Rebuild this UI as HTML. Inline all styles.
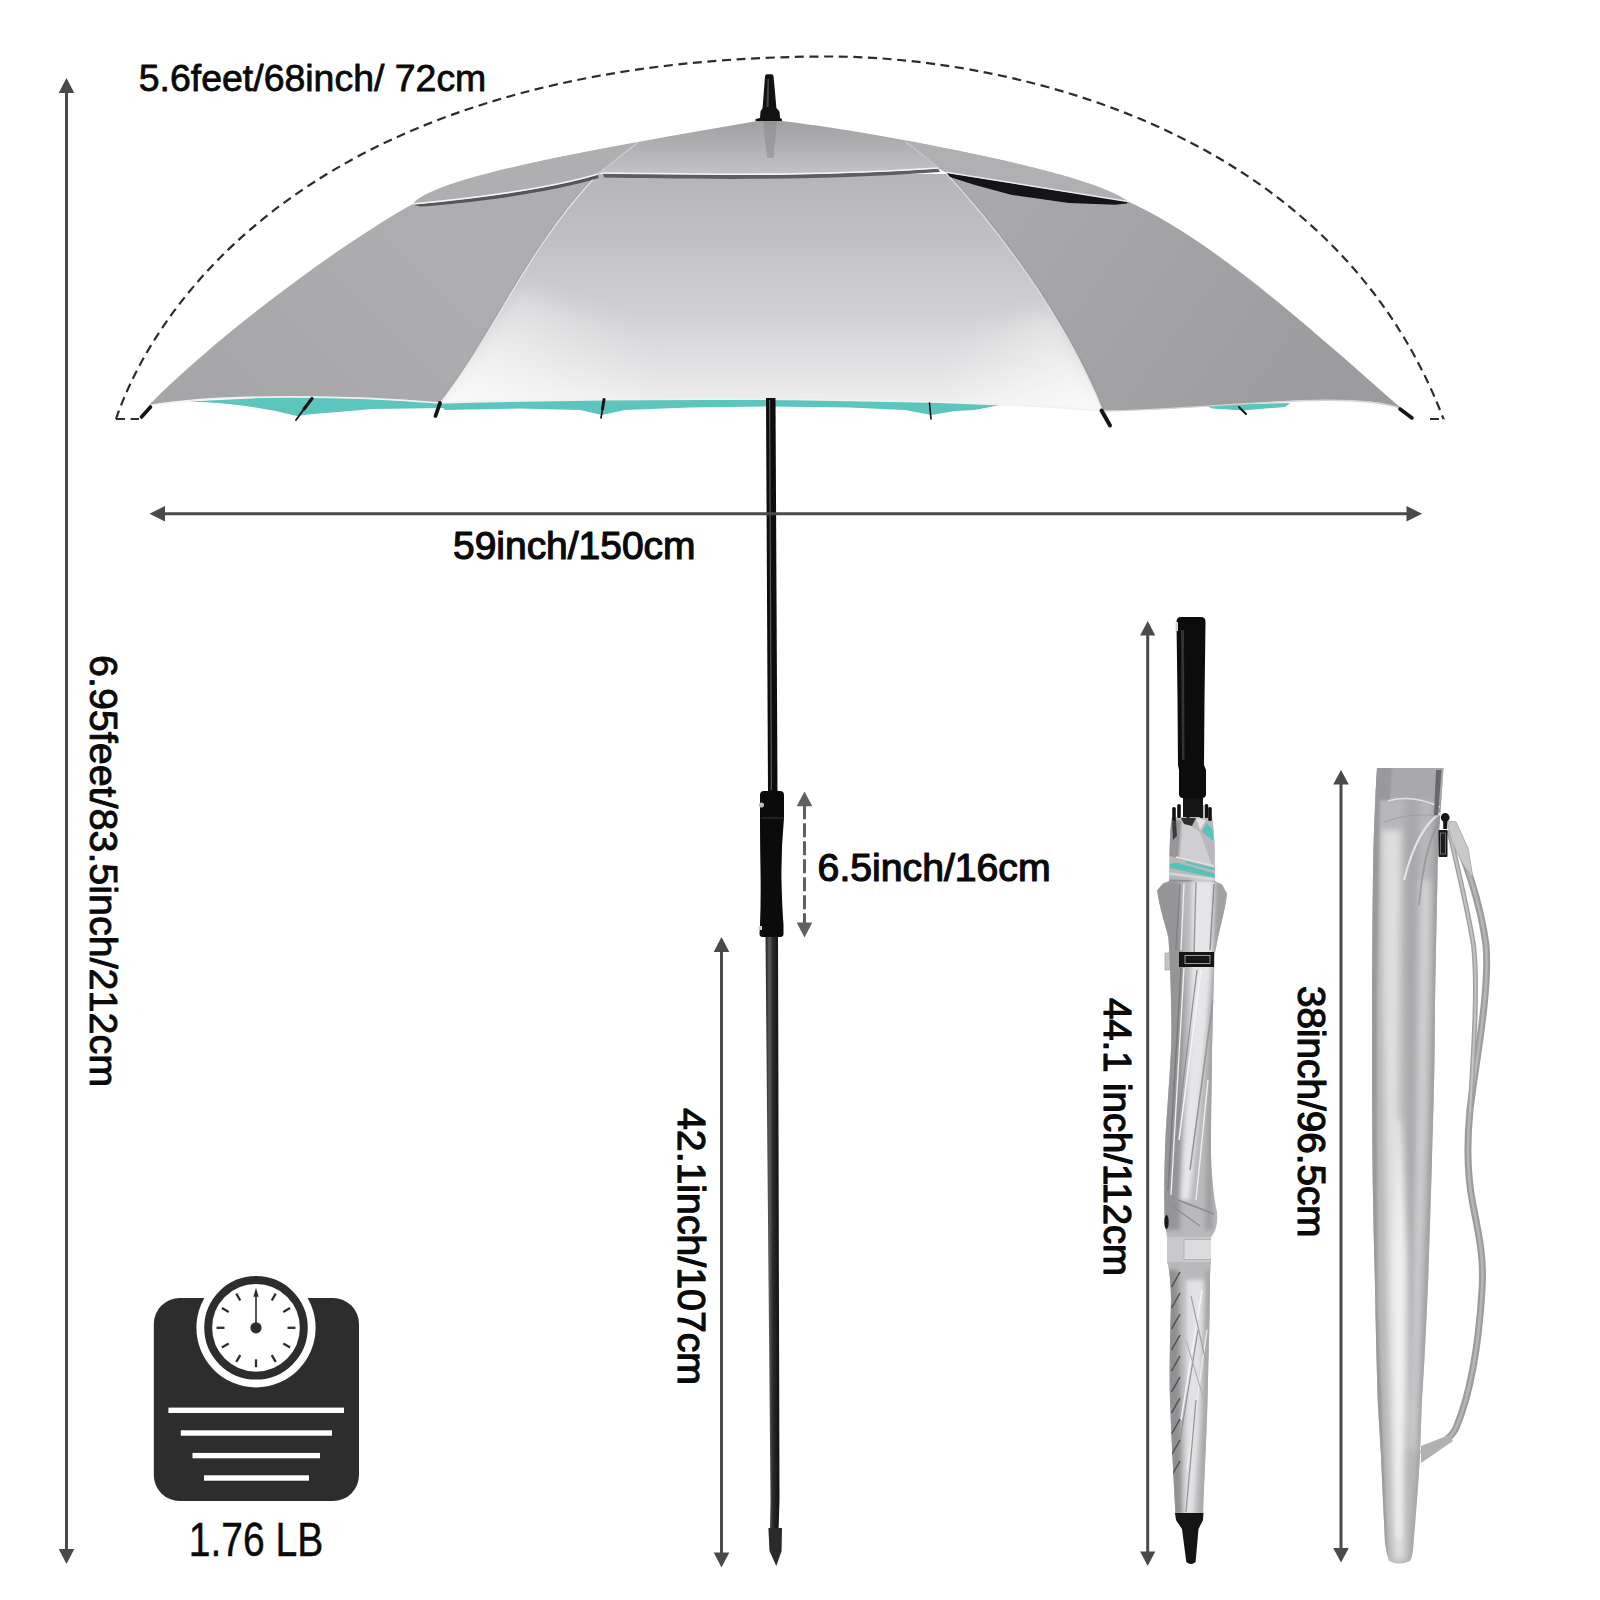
<!DOCTYPE html>
<html lang="en">
<head>
<meta charset="utf-8">
<title>Umbrella size chart</title>
<style>
html,body{margin:0;padding:0;background:#fff;}
body{width:1600px;height:1600px;overflow:hidden;font-family:"Liberation Sans",sans-serif;}
svg{display:block;position:absolute;left:0;top:0;}
text{font-family:"Liberation Sans",sans-serif;fill:#0a0a0a;}
</style>
</head>
<body>
<svg width="1600" height="1600" viewBox="0 0 1600 1600">
<defs>
<linearGradient id="gC" x1="0" y1="172" x2="0" y2="402" gradientUnits="userSpaceOnUse">
 <stop offset="0" stop-color="#b5b5b8"/><stop offset="0.3" stop-color="#c1c1c4"/><stop offset="0.6" stop-color="#d0d0d3"/><stop offset="0.85" stop-color="#e2e2e4"/><stop offset="1" stop-color="#eeeeef"/>
</linearGradient>
<linearGradient id="gL" x1="420" y1="200" x2="200" y2="420" gradientUnits="userSpaceOnUse">
 <stop offset="0" stop-color="#aeaeb0"/><stop offset="1" stop-color="#a6a6a9"/>
</linearGradient>
<linearGradient id="gR" x1="1000" y1="200" x2="1300" y2="420" gradientUnits="userSpaceOnUse">
 <stop offset="0" stop-color="#a9a9ac"/><stop offset="1" stop-color="#9c9c9f"/>
</linearGradient>
<linearGradient id="gTopM" x1="0" y1="120" x2="0" y2="178" gradientUnits="userSpaceOnUse">
 <stop offset="0" stop-color="#a0a0a3"/><stop offset="0.5" stop-color="#b2b2b5"/><stop offset="1" stop-color="#c6c6c9"/>
</linearGradient>
<linearGradient id="gTopL" x1="414" y1="0" x2="770" y2="0" gradientUnits="userSpaceOnUse">
 <stop offset="0" stop-color="#b2b2b5"/><stop offset="1" stop-color="#bcbcbf"/>
</linearGradient>
<linearGradient id="gTopR" x1="770" y1="0" x2="1127" y2="0" gradientUnits="userSpaceOnUse">
 <stop offset="0" stop-color="#b4b4b7"/><stop offset="1" stop-color="#b0b0b3"/>
</linearGradient>
<linearGradient id="gHL" x1="440" y1="400" x2="620" y2="300" gradientUnits="userSpaceOnUse">
 <stop offset="0" stop-color="#ffffff" stop-opacity="0.75"/><stop offset="1" stop-color="#ffffff" stop-opacity="0"/>
</linearGradient>
<linearGradient id="gHR" x1="1100" y1="405" x2="960" y2="330" gradientUnits="userSpaceOnUse">
 <stop offset="0" stop-color="#ffffff" stop-opacity="0.7"/><stop offset="1" stop-color="#ffffff" stop-opacity="0"/>
</linearGradient>
<linearGradient id="gShaft" x1="765" y1="0" x2="778" y2="0" gradientUnits="userSpaceOnUse">
 <stop offset="0" stop-color="#1d1d1d"/><stop offset="0.35" stop-color="#5a5a5a"/><stop offset="0.6" stop-color="#2a2a2a"/><stop offset="1" stop-color="#161616"/>
</linearGradient>
<filter id="b2" x="-20%" y="-5%" width="140%" height="110%"><feGaussianBlur stdDeviation="2.2"/></filter>
<filter id="b3" x="-20%" y="-5%" width="140%" height="110%"><feGaussianBlur stdDeviation="3"/></filter>
<filter id="b8" x="-20%" y="-20%" width="140%" height="140%"><feGaussianBlur stdDeviation="9"/></filter>
<clipPath id="cenClip"><path d="M598 174 L948 174 C1011.8 243.8 1070.8 331.1 1102.5 410 C978.3 399.5 694.5 395.3 440 403 C494.7 333.7 526.8 248 598 174 Z"/></clipPath>
<filter id="b1" x="-20%" y="-5%" width="140%" height="110%"><feGaussianBlur stdDeviation="1.2"/></filter>
</defs>
<rect width="1600" height="1600" fill="#ffffff"/>
<path d="M116 419 C138.3 352.8 267.9 56.5 830 56.5 C980.7 56.5 1327 112.9 1443.5 419" fill="none" stroke="#2c2c2c" stroke-width="2.2" stroke-dasharray="9 5.6"/>
<path d="M116 419H139" fill="none" stroke="#2c2c2c" stroke-width="2.2" stroke-dasharray="9 5.6"/>
<path d="M1430 419H1445" fill="none" stroke="#2c2c2c" stroke-width="2.2" stroke-dasharray="9 5.6"/>
<path d="M188 401.5 L300 396 L440 402 L445 408 L373 409 L308 414.5 L297 416 Q250 403.5 188 401.5 Z" fill="#5cc5be"/>
<path d="M438 401 L700 398 L1000 403 L1000 405 L975 410 L955 411 L931 415 L905 410 L850 407.5 L770 406.5 L690 407.5 L625 410 L602 415 L580 410 L520 408.5 L445 410 Z" fill="#5cc5be"/>
<path d="M1205 405 L1290 403 L1285 407 L1243 410.5 L1212 408.5 Z" fill="#5cc5be"/>
<path d="M149 405 C221.6 331.7 339.9 245.1 412.5 204 L598 174 C526.8 248 494.7 333.7 440 403 C352.8 395.4 226.2 393.3 149 405.5 Z" fill="url(#gL)"/>
<path d="M946 173 L1128 201.5 C1215.6 241.6 1311.3 329.8 1401 408 C1346.6 388.9 1210.6 410.1 1103 411 C1070.8 331.1 1011.8 243.8 946 173 Z" fill="url(#gR)"/>
<path d="M598 174 L948 174 C1011.8 243.8 1070.8 331.1 1102.5 410 C978.3 399.5 694.5 395.3 440 403 C494.7 333.7 526.8 248 598 174 Z" fill="url(#gC)"/>
<g clip-path="url(#cenClip)"><path d="M430 412 L520 290 L660 330 L640 412 Z" fill="url(#gHL)" filter="url(#b8)"/></g>
<g clip-path="url(#cenClip)"><path d="M1112 420 L1050 310 L940 345 L960 418 Z" fill="url(#gHR)" filter="url(#b8)"/></g>
<path d="M598 174 C526.8 248 494.7 333.7 440 403" stroke="#e4e4e6" stroke-width="1.3" fill="none"/>
<path d="M596.6 174 C525.4 248 493.3 333.7 438.6 403" stroke="#9a9a9d" stroke-width="1" fill="none" opacity="0.7"/>
<path d="M946 173 C1011.8 243.8 1070.8 331.1 1102.5 410" stroke="#dcdcde" stroke-width="1.3" fill="none"/>
<path d="M947.5 173 C1013.3 243.8 1072.3 331.1 1104 410" stroke="#8e8e91" stroke-width="1" fill="none" opacity="0.7"/>
<path d="M149 405.5 C226.2 393.3 352.8 395.4 440 403 C694.5 395.3 978.3 399.5 1103 411" stroke="#f1f1f2" stroke-width="1.7" fill="none"/>
<path d="M1103 411 C1210.6 410.1 1346.6 388.9 1401 408.5" stroke="#d4d4d6" stroke-width="1.4" fill="none"/>
<path d="M946 172 L1128 201.5 L1127 203.5 L1115 204.8 L1069 203 L1012 195 L975 185 L950 177 Z" fill="#141416"/>
<path d="M412.5 204.5 C470 199 545 190.5 598 174.5 L598.5 178 C545 194 470 203 420 206.5 Z" fill="#56565a"/>
<path d="M603 173.5 C680 174 800 178 938 168.5 L940 172 C800 182 680 178.5 604 177.5 Z" fill="#5e5e62"/>
<path d="M412.5 204 C439.6 173.3 654.2 139.3 757 121 L782 121 C896.4 134.8 1102.4 176.6 1128 201.5 L946 172.5 L938 168 C800 177.5 680 174 603 173 L598 173.5 C560 185 470 200 412.5 204 Z" fill="url(#gTopM)"/>
<path d="M412.5 204 C432 180 560 156 638 142.5 L599 173.5 C560 185 470 200 412.5 204 Z" fill="#afafb2"/>
<path d="M905 141 C985 155 1095 178 1128 201.5 L946 172.5 L938 168 Z" fill="#b0b0b3"/>
<path d="M599 173 L638 142.5" stroke="#cfcfd2" stroke-width="1.3" fill="none"/>
<path d="M939 168 L905 141.2" stroke="#c6c6c9" stroke-width="1.3" fill="none"/>
<path d="M412.5 204 C470 198.5 545 190 598 174" stroke="#f4f4f5" stroke-width="1.6" fill="none"/>
<path d="M603 173 C680 173.5 800 177.5 938 168" stroke="#f4f4f5" stroke-width="1.7" fill="none"/>
<path d="M946 172.3 L1128 201.5" stroke="#e9e9eb" stroke-width="1.5" fill="none"/>
<path d="M763 121 L777 121 L773.5 158 L767 158 Z" fill="#88888b" opacity="0.5"/>
<path d="M765 76.5 Q765 74.3 767.5 74.3 L771 74.3 Q773.6 74.3 773.6 76.5 L776.4 108 L779.5 111.5 L780 118 L782 119 L782 121 L755.6 121 L755.6 119 L760 118 L760.5 111.5 L762.6 108 Z" fill="#121212"/>
<path d="M767.5 79 L769 79 L768.6 107 L766.4 107 Z" fill="#5a5a5a" opacity="0.75"/>
<line x1="150.5" y1="407" x2="141.5" y2="417" stroke="#141414" stroke-width="3.6" stroke-linecap="round"/>
<line x1="312" y1="398.5" x2="304" y2="409" stroke="#141414" stroke-width="3.2" stroke-linecap="round"/>
<line x1="304" y1="409" x2="296" y2="420" stroke="#141414" stroke-width="1.8" stroke-linecap="round"/>
<line x1="440" y1="403" x2="435.5" y2="416" stroke="#141414" stroke-width="3.8" stroke-linecap="round"/>
<line x1="604" y1="399.5" x2="602.5" y2="409" stroke="#141414" stroke-width="3" stroke-linecap="round"/>
<line x1="602.5" y1="409" x2="601" y2="418" stroke="#141414" stroke-width="1.6" stroke-linecap="round"/>
<line x1="929.5" y1="403" x2="931" y2="419" stroke="#141414" stroke-width="1.6" stroke-linecap="round"/>
<line x1="1101.5" y1="410.5" x2="1110" y2="425.5" stroke="#141414" stroke-width="4" stroke-linecap="round"/>
<line x1="1239" y1="407" x2="1246" y2="414" stroke="#141414" stroke-width="2" stroke-linecap="round"/>
<line x1="1400" y1="409" x2="1412" y2="418" stroke="#141414" stroke-width="3.6" stroke-linecap="round"/>
<path d="M766 398 L775.5 398 L777.5 792 L768 792 Z" fill="#0d0d0d"/>
<path d="M769 400 L770.2 400 L772 790 L770.8 790 Z" fill="#6b6b6b" opacity="0.8"/>
<path d="M765.5 935 L778 935 L779.5 1500 L778.6 1528 L770 1528 L770.5 1500 Z" fill="url(#gShaft)"/>
<path d="M768.4 1528 L782 1528 L781.6 1551 L776.3 1566 L769.5 1551 Z" fill="#2b2b2b"/>
<path d="M760 795 Q760 791 764 791 L780 791 Q784 791 784 795 L784 818 Q781 850 781.5 880 Q782 905 783.5 925 L783.5 934 Q783.5 937 780 937 L763 937 Q759.5 937 759.5 934 L760 925 Q761 900 760.5 870 Q760 840 760 818 Z" fill="#0b0b0b"/>
<path d="M761 818 L784 818" stroke="#3a3a3a" stroke-width="1"/>
<circle cx="761.5" cy="805" r="2.6" fill="#bdbdbd"/>
<rect x="758.5" y="926" width="3.5" height="4" fill="#cfcfcf"/>
<line x1="66.5" y1="92" x2="66.5" y2="1550" stroke="#4a4a4a" stroke-width="3"/><path d="M66.5 78 L58.7 93 L74.3 93 Z" fill="#4a4a4a"/><path d="M66.5 1564 L58.7 1549 L74.3 1549 Z" fill="#4a4a4a"/>
<line x1="721.5" y1="951" x2="721.5" y2="1553.5" stroke="#4a4a4a" stroke-width="3"/><path d="M721.5 937 L713.7 952 L729.3 952 Z" fill="#4a4a4a"/><path d="M721.5 1567.5 L713.7 1552.5 L729.3 1552.5 Z" fill="#4a4a4a"/>
<line x1="1147.7" y1="634.5" x2="1147.7" y2="1552.5" stroke="#4a4a4a" stroke-width="3"/><path d="M1147.7 621 L1140.1000000000001 635.5 L1155.3 635.5 Z" fill="#4a4a4a"/><path d="M1147.7 1566 L1140.1000000000001 1551.5 L1155.3 1551.5 Z" fill="#4a4a4a"/>
<line x1="1341" y1="783.5" x2="1341" y2="1549.0" stroke="#4a4a4a" stroke-width="3"/><path d="M1341 770 L1333.2 784.5 L1348.8 784.5 Z" fill="#4a4a4a"/><path d="M1341 1562.5 L1333.2 1548.0 L1348.8 1548.0 Z" fill="#4a4a4a"/>
<line x1="804.5" y1="805.3" x2="804.5" y2="923.6" stroke="#606060" stroke-width="3" stroke-dasharray="14 4"/><path d="M804.5 791.5 L796.7 806.3 L812.3 806.3 Z" fill="#606060"/><path d="M804.5 937.4 L796.7 922.6 L812.3 922.6 Z" fill="#606060"/>
<line x1="164" y1="513.7" x2="1407" y2="513.7" stroke="#4a4a4a" stroke-width="3"/>
<path d="M149.5 513.7 L165 506 L165 521.4 Z" fill="#4a4a4a"/>
<path d="M1422 513.7 L1406.5 506 L1406.5 521.4 Z" fill="#4a4a4a"/>
<text x="138.8" y="91" font-size="37" textLength="347.5" lengthAdjust="spacingAndGlyphs" stroke="#0a0a0a" stroke-width="0.8" stroke-linejoin="round">5.6feet/68inch/ 72cm</text>
<text x="453" y="559.2" font-size="39" textLength="242.5" lengthAdjust="spacingAndGlyphs" stroke="#0a0a0a" stroke-width="1.2" stroke-linejoin="round">59inch/150cm</text>
<text x="817.6" y="881.3" font-size="38" textLength="233" lengthAdjust="spacingAndGlyphs" stroke="#0a0a0a" stroke-width="1.2" stroke-linejoin="round">6.5inch/16cm</text>
<text x="89.5" y="655" font-size="38.5" textLength="432" lengthAdjust="spacingAndGlyphs" stroke="#0a0a0a" stroke-width="0.9" stroke-linejoin="round" transform="rotate(90 89.5 655)">6.95feet/83.5inch/212cm</text>
<text x="678" y="1108" font-size="39" textLength="277" lengthAdjust="spacingAndGlyphs" stroke="#0a0a0a" stroke-width="1.2" stroke-linejoin="round" transform="rotate(90 678 1108)">42.1inch/107cm</text>
<text x="1104" y="998" font-size="38.5" textLength="278" lengthAdjust="spacingAndGlyphs" stroke="#0a0a0a" stroke-width="1.2" stroke-linejoin="round" transform="rotate(90 1104 998)">44.1 inch/112cm</text>
<text x="1298.4" y="986" font-size="39" textLength="251.5" lengthAdjust="spacingAndGlyphs" stroke="#0a0a0a" stroke-width="1.2" stroke-linejoin="round" transform="rotate(90 1298.4 986)">38inch/96.5cm</text>
<text x="188.8" y="1556" font-size="48" textLength="134.5" lengthAdjust="spacingAndGlyphs" stroke="#0a0a0a" stroke-width="0.5">1.76 LB</text>
<rect x="153.8" y="1298" width="205.2" height="203" rx="26" ry="26" fill="#2d2d2d"/>
<circle cx="256" cy="1327.8" r="59.6" fill="#fff"/>
<circle cx="256" cy="1327.8" r="47.8" fill="#fff" stroke="#2d2d2d" stroke-width="7.9"/>
<line x1="271.75" y1="1300.52" x2="275.70" y2="1293.68" stroke="#2d2d2d" stroke-width="2.3"/>
<line x1="283.28" y1="1312.05" x2="290.12" y2="1308.10" stroke="#2d2d2d" stroke-width="2.3"/>
<line x1="287.50" y1="1327.80" x2="295.40" y2="1327.80" stroke="#2d2d2d" stroke-width="2.3"/>
<line x1="283.28" y1="1343.55" x2="290.12" y2="1347.50" stroke="#2d2d2d" stroke-width="2.3"/>
<line x1="271.75" y1="1355.08" x2="275.70" y2="1361.92" stroke="#2d2d2d" stroke-width="2.3"/>
<line x1="256.00" y1="1359.30" x2="256.00" y2="1367.20" stroke="#2d2d2d" stroke-width="2.3"/>
<line x1="240.25" y1="1355.08" x2="236.30" y2="1361.92" stroke="#2d2d2d" stroke-width="2.3"/>
<line x1="228.72" y1="1343.55" x2="221.88" y2="1347.50" stroke="#2d2d2d" stroke-width="2.3"/>
<line x1="224.50" y1="1327.80" x2="216.60" y2="1327.80" stroke="#2d2d2d" stroke-width="2.3"/>
<line x1="228.72" y1="1312.05" x2="221.88" y2="1308.10" stroke="#2d2d2d" stroke-width="2.3"/>
<line x1="240.25" y1="1300.52" x2="236.30" y2="1293.68" stroke="#2d2d2d" stroke-width="2.3"/>
<line x1="256" y1="1327.8" x2="256" y2="1294.8" stroke="#2d2d2d" stroke-width="1.6"/>
<path d="M256 1287.8 L253.4 1296.8 L258.6 1296.8 Z" fill="#2d2d2d"/>
<circle cx="256" cy="1327.8" r="5.6" fill="#2d2d2d"/>
<rect x="168.4" y="1407.6" width="175.6" height="5.4" fill="#fff"/>
<rect x="180.8" y="1430.3" width="151.2" height="5.4" fill="#fff"/>
<rect x="192.5" y="1452.9" width="127.5" height="5.4" fill="#fff"/>
<rect x="204" y="1475.3" width="105.0" height="5.4" fill="#fff"/>
<clipPath id="ubClip"><path d="M1172 817 C1169.5 830 1169.5 860 1169.5 881 L1163 883.5 L1157 890.5 C1160 910 1165.5 925 1168.4 937.5 L1169.5 955 C1171 990 1172 1030 1171 1050 C1169 1090 1166 1120 1165 1150 C1164 1180 1164 1210 1165 1225 L1167 1237 L1167 1262 C1170 1270 1171 1290 1171 1300 C1170 1340 1169 1381 1170 1400 C1171 1430 1173 1469 1175.5 1515 L1203 1515 C1204.6 1469 1207 1430 1208 1381 C1209 1340 1210 1310 1210 1275 L1211 1262 L1211 1237 C1216 1232 1218 1222 1217 1212 C1213 1195 1211 1170 1211 1150 C1211 1110 1212 1080 1212 1050 C1213 1010 1214 975 1214.5 955 L1218 937.5 C1222 920 1226 905 1227 893.7 L1222 884.5 L1214.5 881 C1215 860 1215 835 1212 817 Z"/></clipPath>
<path d="M1172 817 C1169.5 830 1169.5 860 1169.5 881 L1163 883.5 L1157 890.5 C1160 910 1165.5 925 1168.4 937.5 L1169.5 955 C1171 990 1172 1030 1171 1050 C1169 1090 1166 1120 1165 1150 C1164 1180 1164 1210 1165 1225 L1167 1237 L1167 1262 C1170 1270 1171 1290 1171 1300 C1170 1340 1169 1381 1170 1400 C1171 1430 1173 1469 1175.5 1515 L1203 1515 C1204.6 1469 1207 1430 1208 1381 C1209 1340 1210 1310 1210 1275 L1211 1262 L1211 1237 C1216 1232 1218 1222 1217 1212 C1213 1195 1211 1170 1211 1150 C1211 1110 1212 1080 1212 1050 C1213 1010 1214 975 1214.5 955 L1218 937.5 C1222 920 1226 905 1227 893.7 L1222 884.5 L1214.5 881 C1215 860 1215 835 1212 817 Z" fill="#b9b9bb"/>
<g clip-path="url(#ubClip)">
<rect x="1165" y="812" width="56" height="70" fill="#b9b9bb"/>
<path d="M1183 820 L1200 832 L1212 866 L1180 858 Z" fill="#cfcfd1"/>
<path d="M1170 818 L1181 821 L1178 858 L1169 856 Z" fill="#97979a"/>
<path d="M1172 822 L1176 820 L1177 836 L1173 840 Z" fill="#3c3c3f"/>
<path d="M1181 818 L1196 818 L1192 826 L1184 824 Z" fill="#2e2e31"/>
<path d="M1196 818 L1206 820 L1200 830 Z" fill="#e2e2e4"/>
<path d="M1206.6 822.8 L1212.3 829.5 L1213.6 841 L1202 831.8 Z" fill="#58c2ba"/>
<path d="M1170 863.5 L1178 863 L1215 873.5 L1215 878 L1170 868 Z" fill="#58c2ba"/>
<path d="M1186 861 L1214.5 868.5 L1214.5 870.5 L1186 863 Z" fill="#58c2ba"/>
<path d="M1176 857 L1214 866" stroke="#e4e4e6" stroke-width="1.6"/>
<path d="M1169 873.5 L1216 879.5" stroke="#d8d8da" stroke-width="2.4"/>
<path d="M1169 880.5 L1216 881.5" stroke="#8a8a8d" stroke-width="1.4"/>
<g filter="url(#b2)">
<path d="M1155 880 L1180 880 L1184 1000 L1180 1230 L1160 1230 Z" fill="#959598"/>
<path d="M1192 880 L1214 880 L1212 960 L1204 1060 L1190 1200 L1180 1200 L1190 1040 Z" fill="#e6e6e8"/>
<path d="M1216 880 L1230 880 L1222 960 L1214 1100 L1213 1230 L1205 1230 L1208 1080 Z" fill="#a0a0a3"/>
<path d="M1186 1280 L1204 1280 L1200 1420 L1194 1515 L1184 1515 L1186 1400 Z" fill="#e2e2e4"/>
<path d="M1166 1270 L1178 1270 L1180 1400 L1182 1515 L1172 1515 L1168 1400 Z" fill="#909093"/>
<path d="M1206 1270 L1214 1270 L1210 1400 L1205 1515 L1200 1515 L1204 1400 Z" fill="#a6a6a9"/>
</g>
<line x1="1180" y1="884" x2="1176" y2="950" stroke="#848487" stroke-width="1.6"/>
<line x1="1184" y1="884" x2="1181" y2="950" stroke="#ededef" stroke-width="1.4"/>
<line x1="1196" y1="882" x2="1194" y2="952" stroke="#9a9a9d" stroke-width="1.4"/>
<line x1="1214" y1="884" x2="1210" y2="950" stroke="#8e8e91" stroke-width="1.4"/>
<line x1="1181" y1="968" x2="1168" y2="1190" stroke="#7c7c7f" stroke-width="1.5"/>
<line x1="1184" y1="968" x2="1171" y2="1195" stroke="#f2f2f4" stroke-width="1.3"/>
<line x1="1201" y1="970" x2="1179" y2="1140" stroke="#f4f4f6" stroke-width="1.5"/>
<line x1="1197" y1="970" x2="1176" y2="1140" stroke="#8e8e91" stroke-width="1.2"/>
<line x1="1213" y1="1000" x2="1190" y2="1170" stroke="#97979a" stroke-width="1.6"/>
<line x1="1208" y1="1080" x2="1196" y2="1200" stroke="#f0f0f2" stroke-width="1.4"/>
<line x1="1178" y1="1200" x2="1214" y2="1214" stroke="#8a8a8d" stroke-width="1.4"/>
<line x1="1172" y1="1206" x2="1200" y2="1226" stroke="#8a8a8d" stroke-width="1.2"/>
<line x1="1202" y1="1290" x2="1181" y2="1420" stroke="#f4f4f6" stroke-width="1.5"/>
<line x1="1207" y1="1330" x2="1187" y2="1470" stroke="#eeeef0" stroke-width="1.3"/>
<line x1="1198" y1="1330" x2="1180" y2="1440" stroke="#929295" stroke-width="1.2"/>
<line x1="1196" y1="1400" x2="1186" y2="1512" stroke="#98989b" stroke-width="1.3"/>
<line x1="1191" y1="1296" x2="1206" y2="1362" stroke="#a2a2a5" stroke-width="1.2"/>
<line x1="1186" y1="1340" x2="1204" y2="1400" stroke="#b0b0b3" stroke-width="1.1"/>
<line x1="1171.5" y1="1287" x2="1180" y2="1272" stroke="#4e4e51" stroke-width="1.5"/>
<line x1="1171.5" y1="1308" x2="1180" y2="1293" stroke="#4e4e51" stroke-width="1.5"/>
<line x1="1171.5" y1="1329" x2="1180" y2="1314" stroke="#4e4e51" stroke-width="1.5"/>
<line x1="1171.5" y1="1350" x2="1180" y2="1335" stroke="#4e4e51" stroke-width="1.5"/>
<line x1="1171.5" y1="1371" x2="1180" y2="1356" stroke="#4e4e51" stroke-width="1.5"/>
<line x1="1171.5" y1="1392" x2="1180" y2="1377" stroke="#4e4e51" stroke-width="1.5"/>
<line x1="1171.5" y1="1413" x2="1180" y2="1398" stroke="#4e4e51" stroke-width="1.5"/>
<line x1="1171.5" y1="1434" x2="1180" y2="1419" stroke="#4e4e51" stroke-width="1.5"/>
<line x1="1171.5" y1="1455" x2="1180" y2="1440" stroke="#4e4e51" stroke-width="1.5"/>
<line x1="1171.5" y1="1476" x2="1180" y2="1461" stroke="#4e4e51" stroke-width="1.5"/>
<rect x="1165" y="1237" width="48" height="25" fill="#c9c9cb"/>
<rect x="1184" y="1239.5" width="28" height="20" fill="#dcdcde" stroke="#adadb0" stroke-width="0.8"/>
</g>
<ellipse cx="1166.5" cy="1222" rx="2.2" ry="7" fill="#1a1a1a"/>
<rect x="1179" y="952" width="35" height="15" fill="#151515"/>
<rect x="1185" y="955.5" width="25" height="8" fill="none" stroke="#bdbdbd" stroke-width="0.8"/>
<rect x="1165" y="953" width="4.5" height="17" fill="#c4c4c6" stroke="#9c9c9f" stroke-width="0.6"/>
<rect x="1172.2" y="807" width="3.6" height="14" rx="1.6" fill="#101010"/>
<rect x="1177.2" y="804" width="3.6" height="14" rx="1.6" fill="#101010"/>
<rect x="1186.2" y="804" width="3.6" height="14" rx="1.6" fill="#101010"/>
<rect x="1199.7" y="804" width="3.6" height="14" rx="1.6" fill="#101010"/>
<rect x="1204.7" y="804" width="3.6" height="14" rx="1.6" fill="#101010"/>
<rect x="1208.2" y="807" width="3.6" height="14" rx="1.6" fill="#101010"/>
<rect x="1183" y="796" width="20" height="21" fill="#141414"/>
<path d="M1176.5 622 Q1176.5 617 1181 617 L1201 617 Q1205.5 617 1205.5 622 L1204.5 700 L1204 765 L1206 770 L1206 794 Q1206 798 1202 798 L1183 798 Q1179 798 1179 794 L1179 770 L1178 765 L1177.5 700 Z" fill="#0c0c0c"/>
<path d="M1181 630 L1184 630 L1184.5 760 L1182 760 Z" fill="#3c3c3c" opacity="0.8"/>
<rect x="1175.5" y="622" width="2.5" height="9" fill="#d6d6d6"/>
<path d="M1175 1513 L1203.5 1513 L1203 1520 L1198.5 1529 L1195.6 1562 Q1191 1566 1186.3 1562 L1182 1529 L1176 1520 Z" fill="#141414"/>
<clipPath id="bagClip"><path d="M1377 768 L1443.5 768 C1442 790 1441 805 1440 818 C1438.5 840 1437.5 860 1437.5 875 C1436 950 1435 1000 1434.5 1060 C1433.5 1110 1432.5 1140 1432 1160 C1430.5 1210 1429 1260 1428 1284 C1426 1330 1424 1370 1422 1399 C1421 1425 1420.5 1440 1420 1456 C1418 1490 1415.5 1520 1413.6 1542 Q1413 1556 1410 1561 Q1399 1566 1389 1561 Q1386 1552 1385 1542 C1383.5 1510 1382 1480 1381 1456 C1379.5 1430 1378.5 1415 1377.7 1399 C1376.5 1360 1375.5 1320 1375 1284 C1373.5 1230 1372.5 1180 1372.3 1140 C1372 1090 1372 1040 1372 1002 C1372.3 950 1372.6 900 1373 871 C1373.5 840 1375 800 1377 768 Z"/></clipPath>
<path d="M1377 768 L1443.5 768 C1442 790 1441 805 1440 818 C1438.5 840 1437.5 860 1437.5 875 C1436 950 1435 1000 1434.5 1060 C1433.5 1110 1432.5 1140 1432 1160 C1430.5 1210 1429 1260 1428 1284 C1426 1330 1424 1370 1422 1399 C1421 1425 1420.5 1440 1420 1456 C1418 1490 1415.5 1520 1413.6 1542 Q1413 1556 1410 1561 Q1399 1566 1389 1561 Q1386 1552 1385 1542 C1383.5 1510 1382 1480 1381 1456 C1379.5 1430 1378.5 1415 1377.7 1399 C1376.5 1360 1375.5 1320 1375 1284 C1373.5 1230 1372.5 1180 1372.3 1140 C1372 1090 1372 1040 1372 1002 C1372.3 950 1372.6 900 1373 871 C1373.5 840 1375 800 1377 768 Z" fill="#b7b7b9"/>
<g clip-path="url(#bagClip)">
<g filter="url(#b3)">
<path d="M1382 830 L1401 830 L1399 1100 L1401 1300 L1405 1560 L1393 1560 L1387 1300 L1383 1000 Z" fill="#dededf"/>
<path d="M1405 800 L1419 800 L1415 1100 L1413 1400 L1409 1400 L1407 1100 Z" fill="#a9a9ac"/>
<path d="M1420 880 L1431 880 L1425 1150 L1415 1450 L1410 1450 L1417 1150 Z" fill="#d0d0d2"/>
<path d="M1399 1120 L1401 1120 L1407 1260 L1406 1400 L1402 1540 L1396 1540 L1394 1400 L1393 1260 Z" fill="#f0f0f1"/>
<path d="M1434 760 L1450 760 L1441 1000 L1435 1200 L1425 1450 L1415 1570 L1411 1570 L1419 1450 L1428 1200 L1433 1000 Z" fill="#98989b"/>
<path d="M1370 764 L1450 764 L1450 802 L1370 798 Z" fill="#a9a9ac"/>
</g>
<g filter="url(#b1)">
<path d="M1368 760 L1380.5 760 L1377 1000 L1377.5 1300 L1388 1570 L1380 1570 L1368 1300 Z" fill="#9a9a9d"/>
<path d="M1372 764 L1392 764 L1390 800 L1372 800 Z" fill="#99999c"/>
</g>
<path d="M1388 801 Q1412 794 1440 807" stroke="#e9e9eb" stroke-width="1.6" fill="none" opacity="0.9"/>
<path d="M1441 813 Q1418 826 1404 880" stroke="#ececee" stroke-width="2.2" fill="none" opacity="0.85"/>
<path d="M1439 822 Q1424 848 1419 905" stroke="#8f8f92" stroke-width="1.8" fill="none" opacity="0.7"/>
<path d="M1440 816 Q1410 812 1384 822" stroke="#9a9a9d" stroke-width="1.4" fill="none" opacity="0.6"/>
<path d="M1436 770 L1441.5 770 L1438 815 L1434 815 Z" fill="#68686b"/>
</g>
<path d="M1452 832 C1464 856 1480 900 1486 945 C1490 990 1476 1060 1470 1110 C1466 1150 1468 1180 1473 1205 C1480 1240 1484 1260 1482 1290 C1479 1340 1472 1390 1456 1428 C1450 1440 1440 1444 1424 1452" fill="none" stroke="#9c9c9f" stroke-width="7" stroke-linecap="round"/>
<path d="M1452 832 C1464 856 1480 900 1486 945 C1490 990 1476 1060 1470 1110 C1466 1150 1468 1180 1473 1205 C1480 1240 1484 1260 1482 1290 C1479 1340 1472 1390 1456 1428 C1450 1440 1440 1444 1424 1452" fill="none" stroke="#b6b6b9" stroke-width="2.6"/>
<path d="M1449 830 C1456 862 1467 905 1473.5 945 C1478 985 1474 1045 1470 1112" fill="none" stroke="#a0a0a3" stroke-width="5"/>
<path d="M1449 830 C1456 862 1467 905 1473.5 945 C1478 985 1474 1045 1470 1112" fill="none" stroke="#c4c4c7" stroke-width="2"/>
<path d="M1447 821 L1456 822 L1468 848 L1473 878 L1464 866 L1452 842 Z" fill="#c9c9cb" stroke="#a2a2a5" stroke-width="0.8"/>
<path d="M1421 1446 L1449 1435 L1453 1441 L1421 1463 Z" fill="#b0b0b3"/>
<circle cx="1445.2" cy="817.5" r="4.4" fill="#151515"/>
<rect x="1443.2" y="819" width="4" height="10" fill="#151515"/>
<rect x="1438.5" y="830" width="9" height="27" rx="1" fill="#1c1c1c"/>
<rect x="1440.5" y="833" width="5" height="21" fill="none" stroke="#9a9a9a" stroke-width="0.6"/>
</svg>
</body>
</html>
